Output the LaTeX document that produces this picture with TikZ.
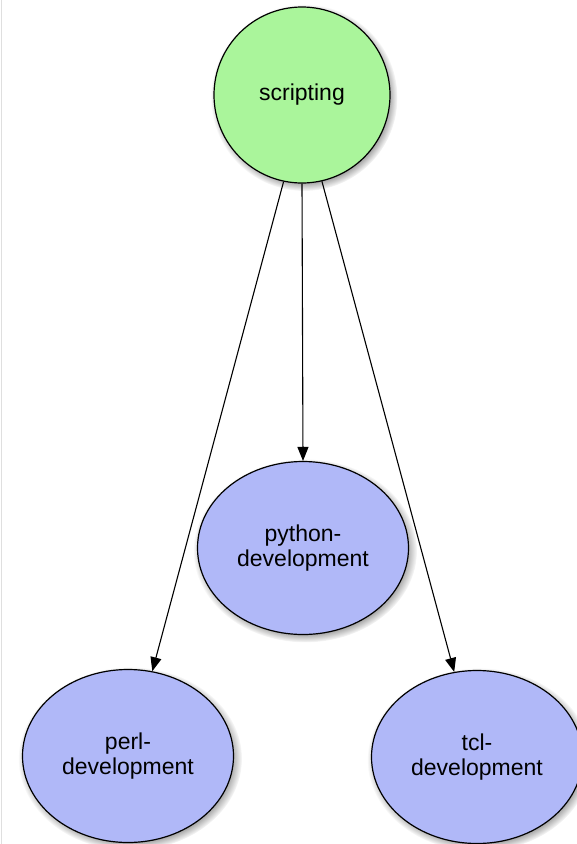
\documentclass[tikz,border=0pt]{standalone}
\usepackage{fontspec}
\setmainfont{Liberation Sans}
\usetikzlibrary{shapes.geometric,arrows.meta,shadows,fadings}
\definecolor{scriptgreen}{RGB}{170,245,155}
\definecolor{devblue}{RGB}{176,184,248}
\tikzset{
  topic/.style={draw=black, line width=1.2pt, inner sep=0pt, align=center,
    font=\fontsize{23}{25.5}\selectfont,
    circular drop shadow={shadow xshift=2pt, shadow yshift=-2.5pt, shadow scale=1.06, opacity=0.55, fill=black}},
  rootnode/.style={topic, circle, fill=scriptgreen, minimum size=176pt},
  devnode/.style={topic, ellipse, fill=devblue, minimum width=211pt, minimum height=173pt},
  link/.style={draw=black, line width=1.1pt, -{Triangle[length=14pt,width=11pt]}}
}
\begin{document}
\begin{tikzpicture}[x=1pt,y=-1pt]
\useasboundingbox (0,0) rectangle (577,844);
\fill[white] (0,0) rectangle (577,844);
\draw[gray!25, line width=1.2pt] (1.5,0) -- (1.5,844);
\node[rootnode] (s) at (302,95) {scripting};
\node[devnode] (py) at (303,548) {python-\\development};
\node[devnode] (pl) at (128,756) {perl-\\development};
\node[devnode] (tc) at (477,757) {tcl-\\development};
\draw[link] (s.-102) -- (pl.74);
\draw[link] (s.south) -- (py.north);
\draw[link] (s.-77) -- (tc.105);
\end{tikzpicture}
\end{document}
